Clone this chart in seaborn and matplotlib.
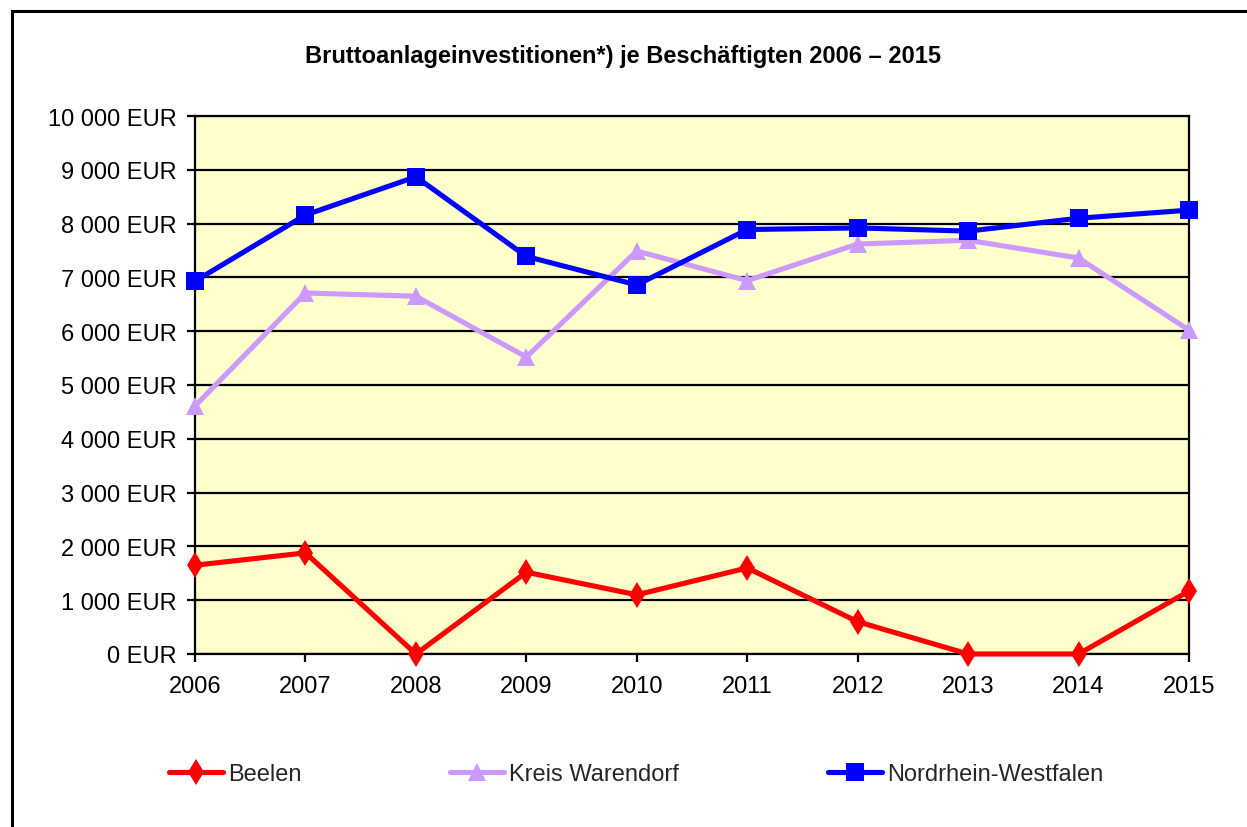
import matplotlib
matplotlib.use("Agg")
import matplotlib.pyplot as plt
import seaborn as sns
import pandas as pd
from matplotlib.patches import Rectangle

years = [2006, 2007, 2008, 2009, 2010, 2011, 2012, 2013, 2014, 2015]
beelen = [1650, 1880, 0, 1520, 1100, 1600, 600, 0, 0, 1170]
warendorf = [4610, 6710, 6650, 5520, 7490, 6940, 7620, 7690, 7360, 6020]
nrw = [6930, 8160, 8870, 7390, 6860, 7890, 7920, 7860, 8100, 8250]
series_names = ["Beelen", "Kreis Warendorf", "Nordrhein-Westfalen"]
y_ticks = [0, 1000, 2000, 3000, 4000, 5000, 6000, 7000, 8000, 9000, 10000]
y_labels = ["0 EUR", "1 000 EUR", "2 000 EUR", "3 000 EUR", "4 000 EUR", "5 000 EUR",
            "6 000 EUR", "7 000 EUR", "8 000 EUR", "9 000 EUR", "10 000 EUR"]
title = "Bruttoanlageinvestitionen*) je Beschäftigten 2006 \u2013 2015"

df = pd.DataFrame({
    "Jahr": years * 3,
    "Wert": beelen + warendorf + nrw,
    "Region": [series_names[0]] * 10 + [series_names[1]] * 10 + [series_names[2]] * 10,
})

sns.set_theme(style="white")
plt.rcParams["font.family"] = ["Liberation Sans", "DejaVu Sans"]

colors = {"Beelen": "#FF0000", "Kreis Warendorf": "#CC99FF", "Nordrhein-Westfalen": "#0000FF"}
markers = {"Beelen": "d", "Kreis Warendorf": "^", "Nordrhein-Westfalen": "s"}
msizes = {"Beelen": 13, "Kreis Warendorf": 13, "Nordrhein-Westfalen": 12.5}

fig = plt.figure(figsize=(12.47, 8.28), dpi=100)
fig.patch.set_facecolor("white")
ax = fig.add_axes([195 / 1247, 1 - 655 / 828, (1189 - 195) / 1247, (655 - 117) / 828])
ax.set_facecolor("#FFFFCC")

for name in series_names:
    sub = df[df["Region"] == name]
    sns.lineplot(data=sub, x="Jahr", y="Wert", ax=ax, color=colors[name],
                 marker=markers[name], markersize=msizes[name], markeredgewidth=0,
                 linewidth=3.7, label=name, legend=False, clip_on=False, zorder=3)

ax.set_xlim(2006, 2015)
ax.set_ylim(0, 10000)
ax.set_yticks(y_ticks)
ax.set_yticklabels(y_labels, fontsize=17)
ax.set_xticks(years)
ax.set_xticklabels([str(y) for y in years], fontsize=17)
ax.set_xlabel("")
ax.set_ylabel("")
ax.yaxis.grid(True, color="black", linewidth=1.6)
ax.xaxis.grid(False)
ax.set_axisbelow(True)
for sp in ax.spines.values():
    sp.set_color("black")
    sp.set_linewidth(1.6)
    sp.set_visible(True)
ax.tick_params(axis="both", direction="out", length=6, width=1.6, color="black",
               labelcolor="black", left=True, bottom=True)
ax.tick_params(axis="y", pad=7)
ax.tick_params(axis="x", pad=9)

fig.text(623 / 1247, 1 - 57 / 828, title, ha="center", va="center",
         fontsize=17, fontweight="bold", color="black")

# outer frame
fig.patches.append(Rectangle((12 / 1247, -0.05), 1.1, (828 - 12) / 828 + 0.05,
                             transform=fig.transFigure, fill=False, edgecolor="black",
                             linewidth=2.2, zorder=10))

handles, labels = ax.get_legend_handles_labels()
leg = fig.legend(handles, labels, loc="center", bbox_to_anchor=(636 / 1247, 1 - 775 / 828),
                 ncol=3, frameon=False, fontsize=17, handlelength=2.3,
                 handletextpad=0.2, columnspacing=6.3)

fig.savefig("out.png", dpi=100, facecolor="white")
